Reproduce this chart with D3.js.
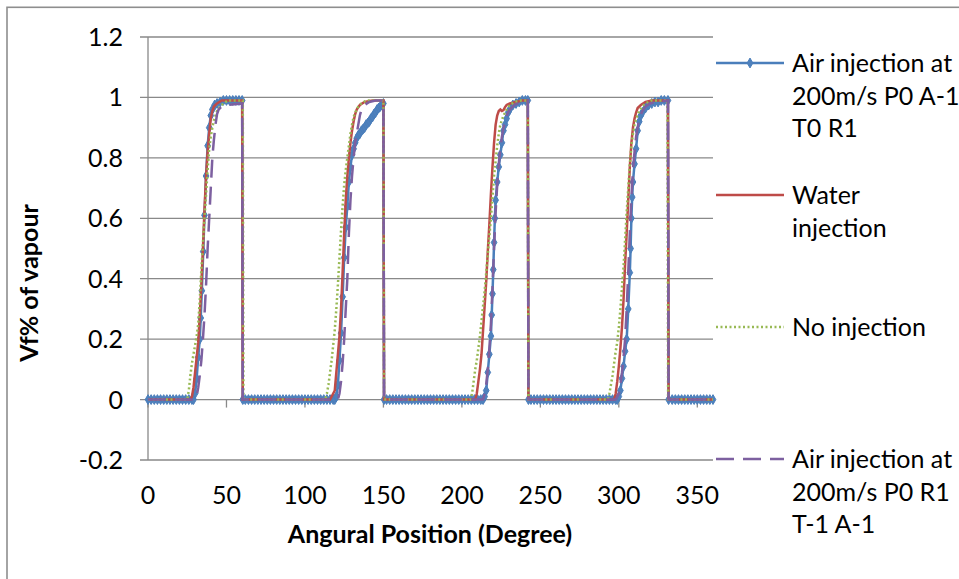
<!DOCTYPE html>
<meta charset="utf-8">
<style>
body { margin: 0; background: #fff; }
svg { font-family: 'Lato', sans-serif; }
.tick-label { font-size: 25px; fill: #000; }
.legend { font-size: 25px; fill: #000; }
.title { font-size: 25px; font-weight: bold; fill: #000; }
</style>
<body>
<div id="chart"></div>
<script src="https://cdn.jsdelivr.net/npm/d3@7/dist/d3.min.js"></script>
<script>
// tick values
var angleTicks = [0, 50, 100, 150, 200, 250, 300, 350];
var vfTicks = [-0.2, 0, 0.2, 0.4, 0.6, 0.8, 1, 1.2];

// [angle, vf]
var airA = [
  [0,0],[2,0],[4,0],[6,0],[8,0],[10,0],[12,0],[14,0],[16,0],[18,0],[20,0],[22,0],[24,0],[26,0],[28,0],
  [29,0],[30,0.02],[31,0.07],[32,0.14],[33,0.2],[33.6,0.27],[34.3,0.36],[35.2,0.49],[36,0.61],[37,0.74],[38,0.84],
  [39,0.9],[40,0.94],[41,0.96],[42.5,0.975],[44,0.98],[46,0.985],[48,0.99],[50,0.99],[52,0.99],[54,0.99],[56,0.99],
  [58,0.99],[60,0.99],[60.4,0],
  [62,0],[64,0],[66,0],[68,0],[70,0],[72,0],[74,0],[76,0],[78,0],[80,0],[82,0],[84,0],[86,0],[88,0],[90,0],
  [92,0],[94,0],[96,0],[98,0],[100,0],[102,0],[104,0],[106,0],[108,0],[110,0],[112,0],[114,0],[116,0],[118,0],
  [119,0],[120,0.01],[121,0.05],[122,0.13],[123,0.22],[124,0.34],[125,0.47],[126,0.57],[127,0.64],[128,0.72],
  [129,0.77],[130,0.81],[131,0.83],[132,0.85],[133,0.865],[134,0.875],[135,0.88],[136,0.89],[137,0.895],[138,0.9],
  [139,0.91],[140,0.915],[141,0.92],[142,0.93],[143,0.935],[144,0.945],[145,0.95],[146,0.96],[147,0.965],
  [148,0.97],[149,0.975],[150,0.98],[150.4,0],
  [152,0],[154,0],[156,0],[158,0],[160,0],[162,0],[164,0],[166,0],[168,0],[170,0],[172,0],[174,0],[176,0],[178,0],
  [180,0],[182,0],[184,0],[186,0],[188,0],[190,0],[192,0],[194,0],[196,0],[198,0],[200,0],[202,0],[204,0],[206,0],
  [208,0],[210,0],[212,0],
  [213.5,0],[214.5,0.01],[215.5,0.03],[216.5,0.09],[217.5,0.15],[218.5,0.21],[219,0.28],[219.5,0.35],[220,0.43],
  [220.5,0.52],[221,0.6],[221.5,0.66],[222.5,0.72],[223.5,0.77],[224.5,0.81],[225.5,0.85],[226.5,0.89],[227.5,0.91],
  [228.5,0.93],[229.5,0.95],[230.5,0.96],[232.5,0.975],[234.5,0.98],[236.5,0.985],[238.5,0.99],[240.5,0.99],
  [242,0.99],[242.4,0],
  [244,0],[246,0],[248,0],[250,0],[252,0],[254,0],[256,0],[258,0],[260,0],[262,0],[264,0],[266,0],[268,0],[270,0],
  [272,0],[274,0],[276,0],[278,0],[280,0],[282,0],[284,0],[286,0],[288,0],[290,0],[292,0],[294,0],[296,0],[298,0],
  [299,0],[300,0.01],[301,0.03],[302,0.07],[303,0.11],[304,0.16],[305,0.2],[306,0.3],[307,0.42],[307.5,0.5],
  [308,0.6],[308.5,0.67],[309,0.72],[310,0.78],[311,0.83],[312,0.89],[313,0.92],[314,0.94],[315,0.95],[317,0.965],
  [319,0.975],[321,0.98],[323,0.985],[325,0.985],[327,0.99],[329,0.99],[331.3,0.99],[331.7,0],
  [334,0],[336,0],[338,0],[340,0],[342,0],[344,0],[346,0],[348,0],[350,0],[352,0],[354,0],[356,0],[358,0],[360,0]
];

var water = [
  [0,0],[27,0],[28,0.01],[29,0.04],[30,0.09],[31,0.14],[32,0.19],[33,0.28],[34,0.38],[35,0.5],[36,0.63],[37,0.74],
  [38,0.82],[39,0.88],[40,0.93],[41,0.955],[42,0.97],[44,0.98],[47,0.99],[60,0.99],[60.4,0],
  [116,0],[119,0.03],[120,0.09],[121,0.15],[122,0.21],[123,0.3],[124,0.42],[125,0.55],[126,0.66],[127,0.74],
  [128,0.8],[129,0.85],[130,0.89],[131,0.92],[132,0.945],[133,0.96],[135,0.975],[138,0.985],[143,0.99],[150,0.99],[150.4,0],
  [208.5,0],[209.5,0.02],[210.5,0.06],[211.5,0.1],[212.5,0.15],[213.5,0.23],[214.5,0.31],[215.5,0.39],[216.5,0.49],
  [217.5,0.58],[218.5,0.68],[219.5,0.77],[220.5,0.85],[221.5,0.91],[222.5,0.94],[223.5,0.955],[224.5,0.96],
  [225.5,0.955],[226.5,0.958],[227.5,0.968],[228.5,0.975],[230.5,0.98],[234.5,0.985],[238.5,0.99],[242,0.99],[242.4,0],
  [297,0],[298,0.02],[299,0.06],[300,0.11],[301,0.17],[302,0.24],[303,0.33],[304,0.45],[305,0.55],[306,0.66],
  [307,0.77],[308,0.85],[309,0.9],[310,0.93],[311,0.95],[312,0.965],[314,0.975],[317,0.985],[321,0.99],[331.3,0.99],
  [331.7,0],[360,0]
];

var noInj = [
  [0,0],[25,0],[26,0.03],[27,0.08],[28,0.12],[29,0.15],[30,0.18],[31,0.21],[32,0.25],[33,0.33],[34,0.43],[35,0.52],
  [36,0.6],[37,0.68],[38,0.76],[39,0.83],[40,0.87],[41,0.9],[42,0.925],[43,0.94],[44,0.955],[46,0.97],[48,0.98],
  [51,0.99],[60.4,0.99],[60.8,0],
  [113,0],[114,0.02],[115,0.05],[116,0.09],[117,0.13],[118,0.18],[119,0.23],[120,0.3],[121,0.38],[122,0.47],
  [123,0.56],[124,0.64],[125,0.71],[126,0.76],[127,0.8],[128,0.84],[129,0.88],[130,0.91],[131,0.935],[132,0.95],
  [134,0.97],[136,0.98],[139,0.99],[150,0.99],[150.4,0],
  [205.5,0],[206.5,0.02],[207.5,0.06],[208.5,0.1],[209.5,0.13],[210.5,0.17],[211.5,0.21],[212.5,0.26],[213.5,0.31],
  [214.5,0.36],[215.5,0.42],[216.5,0.48],[217.5,0.54],[218.5,0.6],[219.5,0.67],[220.5,0.74],[221.5,0.79],
  [222.5,0.84],[223.5,0.88],[224.5,0.91],[225.5,0.925],[226.5,0.94],[228.5,0.96],[230.5,0.975],[233.5,0.985],
  [237.5,0.99],[242,0.99],[242.4,0],
  [293,0],[294,0.02],[295,0.05],[296,0.08],[297,0.12],[298,0.16],[299,0.19],[300,0.24],[301,0.3],[302,0.37],
  [303,0.44],[304,0.53],[305,0.62],[306,0.7],[307,0.78],[308,0.84],[309,0.88],[310,0.91],[311,0.93],[313,0.955],
  [315,0.97],[317,0.98],[321,0.99],[331,0.99],[331.4,0],[360,0]
];

var airB = [
  [0,0],[30,0],[31,0.01],[32,0.04],[33,0.08],[34,0.13],[35,0.2],[36,0.28],[37,0.38],[38,0.5],[39,0.6],[40,0.7],
  [41,0.8],[42,0.86],[43,0.91],[44,0.945],[45,0.96],[47,0.97],[50,0.975],[60,0.98],[60.4,0],
  [121,0],[122,0.02],[123,0.06],[124,0.12],[125,0.2],[126,0.3],[127,0.4],[128,0.55],[129,0.66],[130,0.74],
  [131,0.8],[132,0.85],[133,0.88],[134,0.91],[135,0.94],[136,0.96],[138,0.975],[141,0.985],[145,0.99],[150,0.99],[150.4,0],
  [213.5,0],[214.5,0.02],[215.5,0.05],[216.5,0.1],[217.5,0.17],[218.5,0.25],[219.5,0.37],[220.5,0.5],[221.5,0.62],
  [222.5,0.71],[223.5,0.78],[224.5,0.83],[225.5,0.87],[226.5,0.9],[228.5,0.94],[230.5,0.96],[233.5,0.975],
  [237.5,0.985],[242,0.99],[242.4,0],
  [298,0],[299,0.01],[300,0.02],[301,0.05],[302,0.09],[303,0.14],[304,0.2],[305,0.3],[306,0.42],[307,0.55],
  [308,0.67],[309,0.76],[310,0.82],[311,0.87],[312,0.9],[313,0.93],[315,0.955],[317,0.97],[320,0.98],[324,0.985],
  [331.3,0.99],[331.7,0],[360,0]
];

var seriesNames = [
  ['Air injection at', '200m/s P0 A-1', 'T0 R1'],
  ['Water', 'injection'],
  ['No injection'],
  ['Air injection at', '200m/s P0 R1', 'T-1 A-1']
];

var blue = '#4a7ebb', red = '#be4b48', green = '#98b954', purple = '#7d60a0', grid = '#898989';

var svg = d3.select('#chart')
            .append('svg')
            .attr('width', 959)
            .attr('height', 579);

// outer frame
svg.append('rect')
   .attr('x', 7).attr('y', 7.3)
   .attr('width', 1000).attr('height', 1000)
   .attr('fill', 'none')
   .attr('stroke', '#8e8e8e')
   .attr('stroke-width', 1.6);

var x = d3.scaleLinear().domain([0, 360]).range([148, 713]);
var y = d3.scaleLinear().domain([-0.2, 1.2]).range([460, 37]);

// horizontal grid
svg.selectAll('.grid')
   .data(vfTicks)
   .enter().append('line')
   .attr('x1', x(0) - 8).attr('x2', x(360))
   .attr('y1', function(d){ return y(d); })
   .attr('y2', function(d){ return y(d); })
   .attr('stroke', grid)
   .attr('stroke-width', 1.3);

// y axis line
svg.append('line')
   .attr('x1', x(0)).attr('x2', x(0))
   .attr('y1', y(1.2)).attr('y2', y(-0.2))
   .attr('stroke', grid).attr('stroke-width', 1.3);

// x axis ticks
svg.selectAll('.xtick')
   .data(angleTicks)
   .enter().append('line')
   .attr('x1', function(d){ return x(d); })
   .attr('x2', function(d){ return x(d); })
   .attr('y1', y(0)).attr('y2', y(0) + 8)
   .attr('stroke', grid).attr('stroke-width', 1.3);

svg.selectAll('.ylab')
   .data(vfTicks)
   .enter().append('text')
   .attr('class', 'tick-label')
   .attr('x', 123)
   .attr('y', function(d){ return y(d) + 9; })
   .attr('text-anchor', 'end')
   .text(function(d){ return String(d); });

svg.selectAll('.xlab')
   .data(angleTicks)
   .enter().append('text')
   .attr('class', 'tick-label')
   .attr('x', function(d){ return x(d); })
   .attr('y', 504)
   .attr('text-anchor', 'middle')
   .text(function(d){ return d; });

svg.append('text')
   .attr('class', 'title')
   .attr('x', 430).attr('y', 543)
   .attr('text-anchor', 'middle')
   .text('Angural Position (Degree)');

svg.append('text')
   .attr('class', 'title')
   .attr('transform', 'translate(38,283) rotate(-90)')
   .attr('text-anchor', 'middle')
   .text('Vf% of vapour');

var line = d3.line()
  .x(function(d){ return x(d[0]); })
  .y(function(d){ return y(d[1]); });

var diamond = d3.symbol().type(d3.symbolDiamond).size(28);

// blue series with markers
svg.append('path')
   .datum(airA)
   .attr('d', line)
   .attr('fill', 'none')
   .attr('stroke', blue)
   .attr('stroke-width', 2.5);

svg.selectAll('.mk')
   .data(airA)
   .enter().append('path')
   .attr('d', diamond)
   .attr('transform', function(d){ return 'translate(' + x(d[0]) + ',' + y(d[1]) + ')'; })
   .attr('fill', '#4f81bd')
   .attr('stroke', blue)
   .attr('stroke-width', 1);

svg.append('path')
   .datum(water)
   .attr('d', line)
   .attr('fill', 'none')
   .attr('stroke', red)
   .attr('stroke-width', 2.5);

svg.append('path')
   .datum(noInj)
   .attr('d', line)
   .attr('fill', 'none')
   .attr('stroke', green)
   .attr('stroke-width', 2.5)
   .attr('stroke-dasharray', '2,2.5');

svg.append('path')
   .datum(airB)
   .attr('d', line)
   .attr('fill', 'none')
   .attr('stroke', purple)
   .attr('stroke-width', 2.5)
   .attr('stroke-dasharray', '18,9');

// legend
var legY = [63, 195, 327, 459];
var legStyle = [
  {c: blue, dash: null},
  {c: red, dash: null},
  {c: green, dash: '2,2.5'},
  {c: purple, dash: '18,9'}
];

legStyle.forEach(function(s, i){
  svg.append('line')
     .attr('x1', 716).attr('x2', 784)
     .attr('y1', legY[i]).attr('y2', legY[i])
     .attr('stroke', s.c)
     .attr('stroke-width', 2.5)
     .attr('stroke-dasharray', s.dash);
  if (i === 0) {
    svg.append('path')
       .attr('d', diamond)
       .attr('transform', 'translate(750,' + legY[i] + ')')
       .attr('fill', '#4f81bd')
       .attr('stroke', blue);
  }
  seriesNames[i].forEach(function(t, k){
    svg.append('text')
       .attr('class', 'legend')
       .attr('x', 792)
       .attr('y', legY[i] + 9 + k * 32.5)
       .text(t);
  });
});
</script>
</body>
